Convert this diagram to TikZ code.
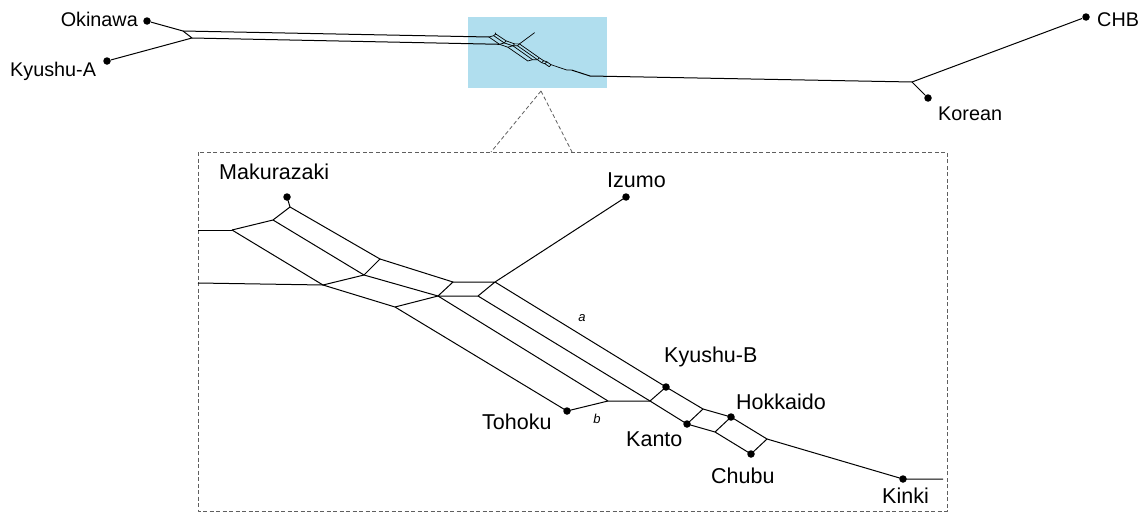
\documentclass[tikz,border=0pt]{standalone}
\usepackage{fontspec}
\setmainfont{Liberation Sans}
\definecolor{zoomblue}{RGB}{176,222,238}
\definecolor{boxgray}{RGB}{95,95,95}
\newcommand\netedges[1]{%
  \coordinate (#1Mk) at (287,197);
  \coordinate (#1M1) at (290,207);
  \coordinate (#1A1) at (232,230);
  \coordinate (#1A2) at (273,220);
  \coordinate (#1B1) at (380,259);
  \coordinate (#1B2) at (364,275);
  \coordinate (#1C1) at (323,285);
  \coordinate (#1D1) at (453,282);
  \coordinate (#1D2) at (438,296);
  \coordinate (#1E1) at (395,307);
  \coordinate (#1F1) at (495,282);
  \coordinate (#1F2) at (478,296);
  \coordinate (#1Iz) at (626,197);
  \coordinate (#1KB) at (666,387);
  \coordinate (#1To) at (567,411);
  \coordinate (#1T1) at (608,401);
  \coordinate (#1G1) at (650,401);
  \coordinate (#1Ka) at (687,424);
  \coordinate (#1H1) at (703,409);
  \coordinate (#1Ho) at (731,417);
  \coordinate (#1H2) at (715,432);
  \coordinate (#1Ch) at (751,454);
  \coordinate (#1H3) at (767,439);
  \coordinate (#1Ki) at (903,479);
  \coordinate (#1KiE) at (943,479);
  \draw (#1A1) -- (#1A2) -- (#1M1) -- (#1Mk);
  \draw (#1M1) -- (#1B1) -- (#1B2) -- (#1A2);
  \draw (#1A1) -- (#1C1) -- (#1B2);
  \draw (#1B1) -- (#1D1) -- (#1D2) -- (#1B2);
  \draw (#1C1) -- (#1E1) -- (#1D2);
  \draw (#1D1) -- (#1F1) -- (#1F2) -- (#1D2);
  \draw (#1F1) -- (#1Iz);
  \draw (#1F1) -- (#1KB);
  \draw (#1F2) -- (#1G1);
  \draw (#1D2) -- (#1T1);
  \draw (#1E1) -- (#1To) -- (#1T1) -- (#1G1);
  \draw (#1G1) -- (#1KB);
  \draw (#1G1) -- (#1Ka);
  \draw (#1KB) -- (#1H1) -- (#1Ka);
  \draw (#1H1) -- (#1Ho);
  \draw (#1Ka) -- (#1H2) -- (#1Ho);
  \draw (#1H2) -- (#1Ch);
  \draw (#1Ho) -- (#1H3) -- (#1Ch);
  \draw (#1H3) -- (#1Ki) -- (#1KiE);
}
\begin{document}
\begin{tikzpicture}[x=1pt,y=-1pt,
  line join=round,
  edge/.style={line width=1pt},
  dotnode/.style={circle,fill=black,inner sep=0pt,minimum size=7.5pt},
  tlab/.style={font=\fontsize{19.8}{19.8}\selectfont,inner sep=0pt},
  blab/.style={font=\fontsize{21.5}{21.5}\selectfont,inner sep=0pt},
  small/.style={font=\fontsize{13}{13}\selectfont\itshape,inner sep=0pt},
  zoomline/.style={boxgray,dashed,dash pattern=on 4pt off 2.5pt,line width=0.8pt}]
\useasboundingbox (0,0) rectangle (1145,514);

% blue highlight and zoom frame
\fill[zoomblue] (468,17) rectangle (607,88);
\coordinate (zc) at (541,91);
\coordinate (zl) at (491,152);
\coordinate (zr) at (572,152);
\draw[zoomline] (198,152) rectangle (947,511);
\draw[zoomline] (zc) -- (zl);
\draw[zoomline] (zc) -- (zr);

% mini network inside the blue area
\begin{scope}[shift={(462.03,6.525)},xscale=0.116,yscale=0.1325,line width=0.7pt]
  \netedges{m}
\end{scope}

% top network
\begin{scope}[edge]
\node[dotnode] (ok) at (147,21) {};
\node[dotnode] (ka) at (107,61) {};
\node[dotnode] (ko) at (928,98) {};
\node[dotnode] (chb) at (1086,17) {};
\coordinate (j1) at (183,31);
\coordinate (j2) at (192,38);
\coordinate (r1) at (590,76);
\coordinate (kj) at (912,82);
\draw (ok) -- (j1) -- (j2) -- (ka);
\draw (j1) -- (mA1);
\draw (j2) -- (mC1);
\draw (mKiE) -- (r1) -- (kj) -- (chb);
\draw (kj) -- (ko);
\end{scope}

\node[tlab,anchor=base east] at (138,27) {Okinawa};
\node[tlab,anchor=base west] at (10,76) {Kyushu-A};
\node[tlab,anchor=base west] at (1097,26) {CHB};
\node[tlab,anchor=base west] at (938,120) {Korean};

% zoomed network
\begin{scope}[edge]
\coordinate (L1) at (198,230);
\coordinate (L2) at (198,283);
\netedges{}
\draw (L1) -- (A1);
\draw (L2) -- (C1);
\end{scope}
\foreach \p in {Mk,Iz,KB,To,Ka,Ho,Ch,Ki} \node[dotnode] at (\p) {};

\node[blab,anchor=base west] at (219,179) {Makurazaki};
\node[blab,anchor=base west] at (607,187) {Izumo};
\node[blab,anchor=base west] at (664,362) {Kyushu-B};
\node[blab,anchor=base west] at (736,409) {Hokkaido};
\node[blab,anchor=base west] at (482,429) {Tohoku};
\node[blab,anchor=base west] at (626,446) {Kanto};
\node[blab,anchor=base west] at (711,483) {Chubu};
\node[blab,anchor=base west] at (882,503) {Kinki};
\node[small] at (582,318) {a};
\node[small] at (597,419) {b};
\end{tikzpicture}
\end{document}
